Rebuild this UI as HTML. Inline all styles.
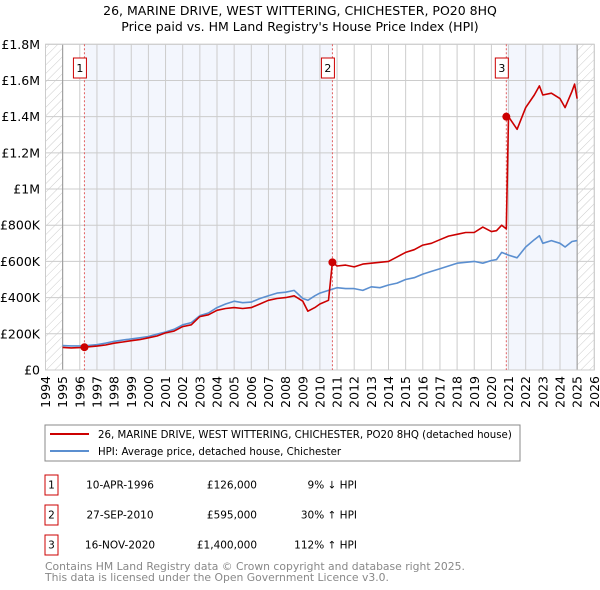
<!DOCTYPE html>
<html><head><meta charset="utf-8"><style>
body{margin:0;background:#fff;font-family:"DejaVu Sans","Liberation Sans",sans-serif;}
svg{display:block}
</style></head><body>
<svg id="chart" width="600" height="590" xmlns="http://www.w3.org/2000/svg" font-family="DejaVu Sans, Liberation Sans, sans-serif">
<defs><pattern id="hatch" width="6" height="6" patternUnits="userSpaceOnUse" patternTransform="rotate(45)"><line x1="0" y1="0" x2="0" y2="6" stroke="#ccc" stroke-width="1"/></pattern></defs>
<text x="300" y="15" text-anchor="middle" font-size="12.5">26, MARINE DRIVE, WEST WITTERING, CHICHESTER, PO20 8HQ</text>
<text x="300" y="31" text-anchor="middle" font-size="12.5">Price paid vs. HM Land Registry's House Price Index (HPI)</text>
<g id="plot"></g>
<g>
<rect x="45" y="425" width="475" height="36" fill="#fff" stroke="#888"/>
<line x1="50" y1="434" x2="89" y2="434" stroke="#cc0000" stroke-width="2"/>
<text x="98" y="438" font-size="10.2">26, MARINE DRIVE, WEST WITTERING, CHICHESTER, PO20 8HQ (detached house)</text>
<line x1="50" y1="451" x2="89" y2="451" stroke="#5b8fd0" stroke-width="2"/>
<text x="98" y="455" font-size="10.2">HPI: Average price, detached house, Chichester</text>
</g>
<g font-size="10.5">
<rect x="45" y="475" width="13" height="20" fill="none" stroke="#cc0000"/><text x="51.5" y="488.5" text-anchor="middle">1</text>
<text x="120" y="488.5" text-anchor="middle">10-APR-1996</text><text x="257" y="488.5" text-anchor="end">£126,000</text><text x="357" y="488.5" text-anchor="end">9% ↓ HPI</text>
<rect x="45" y="505" width="13" height="20" fill="none" stroke="#cc0000"/><text x="51.5" y="518.5" text-anchor="middle">2</text>
<text x="120" y="518.5" text-anchor="middle">27-SEP-2010</text><text x="257" y="518.5" text-anchor="end">£595,000</text><text x="357" y="518.5" text-anchor="end">30% ↑ HPI</text>
<rect x="45" y="535" width="13" height="20" fill="none" stroke="#cc0000"/><text x="51.5" y="548.5" text-anchor="middle">3</text>
<text x="120" y="548.5" text-anchor="middle">16-NOV-2020</text><text x="257" y="548.5" text-anchor="end">£1,400,000</text><text x="357" y="548.5" text-anchor="end">112% ↑ HPI</text>
</g>
<text x="45" y="570" font-size="10.8" fill="#888">Contains HM Land Registry data © Crown copyright and database right 2025.</text>
<text x="45" y="581" font-size="10.8" fill="#888">This data is licensed under the Open Government Licence v3.0.</text>
</svg>
<script>
const hpiYears=[1995,1995.5,1996,1996.5,1997,1997.5,1998,1998.5,1999,1999.5,2000,2000.5,2001,2001.5,2002,2002.5,2003,2003.5,2004,2004.5,2005,2005.5,2006,2006.5,2007,2007.5,2008,2008.5,2009,2009.3,2009.7,2010,2010.5,2011,2011.5,2012,2012.5,2013,2013.5,2014,2014.5,2015,2015.5,2016,2016.5,2017,2017.5,2018,2018.5,2019,2019.5,2020,2020.3,2020.6,2021,2021.5,2022,2022.5,2022.8,2023,2023.5,2024,2024.3,2024.7,2025];
const hpiValues=[135,133,133,136,140,148,158,165,172,178,185,198,210,225,250,262,300,315,345,365,380,372,375,395,410,425,430,440,395,385,410,425,440,455,450,450,440,460,455,470,480,500,510,530,545,560,575,590,595,600,590,605,610,650,635,620,680,720,742,700,715,700,680,710,715];
const priceYears=[1995,1995.5,1996,1996.27,1996.5,1997,1997.5,1998,1998.5,1999,1999.5,2000,2000.5,2001,2001.5,2002,2002.5,2003,2003.5,2004,2004.5,2005,2005.5,2006,2006.5,2007,2007.5,2008,2008.5,2009,2009.3,2009.7,2010,2010.5,2010.73,2011,2011.5,2012,2012.5,2013,2013.5,2014,2014.5,2015,2015.5,2016,2016.5,2017,2017.5,2018,2018.5,2019,2019.5,2020,2020.3,2020.6,2020.87,2021,2021.5,2022,2022.5,2022.8,2023,2023.5,2024,2024.3,2024.7,2024.85,2025];
const priceValues=[125,122,124,126,128,132,138,148,155,162,168,178,188,205,215,240,250,295,305,330,340,345,340,345,365,385,395,400,410,380,325,345,365,385,595,575,580,570,585,590,595,600,625,650,665,690,700,720,740,750,760,760,790,765,770,800,780,1400,1330,1450,1520,1570,1520,1530,1500,1450,1540,1580,1500];
const saleYears=[1996.27,2010.73,2020.87];
const saleValues=[126,595,1400];
const saleLabels=["1","2","3"];
const yTicks=[0,200,400,600,800,1000,1200,1400,1600,1800];
const yTickLabels=["£0","£200K","£400K","£600K","£800K","£1M","£1.2M","£1.4M","£1.6M","£1.8M"];
const xTicks=[];for(let y=1994;y<=2026;y++)xTicks.push(y);

const NS="http://www.w3.org/2000/svg";
const L=45.5,R=594.3,T=44.3,B=370;
const xs=v=>L+(v-1994)/(2026-1994)*(R-L);
const ys=v=>B-v/1800*(B-T);
const g=document.getElementById('plot');
function mk(tag,attrs,parent){const e=document.createElementNS(NS,tag);for(const k in attrs)e.setAttribute(k,attrs[k]);(parent||g).appendChild(e);return e;}
mk('rect',{x:L,y:T,width:R-L,height:B-T,fill:'#fff'});
let r=mk('rect',{x:xs(saleYears[0]),y:T,width:xs(saleYears[1])-xs(saleYears[0]),height:B-T,fill:'#f3f6fd'});

r=mk('rect',{x:xs(saleYears[2]),y:T,width:xs(2025)-xs(saleYears[2]),height:B-T,fill:'#f3f6fd'});

mk('rect',{x:L,y:T,width:xs(1995)-L,height:B-T,fill:'url(#hatch)'});
mk('rect',{x:xs(2025),y:T,width:R-xs(2025),height:B-T,fill:'url(#hatch)'});
xTicks.forEach(y=>{mk('line',{x1:xs(y),x2:xs(y),y1:T,y2:B,stroke:'#ccc','stroke-width':1});
 const t=mk('text',{x:0,y:0,'font-size':12.5,'text-anchor':'end',transform:`translate(${xs(y)+4.5},${B+6}) rotate(-90)`});t.textContent=y;
 });
yTicks.forEach((v,i)=>{mk('line',{x1:L,x2:R,y1:ys(v),y2:ys(v),stroke:'#ccc','stroke-width':1});
 const t=mk('text',{x:40,y:ys(v)+4.5,'font-size':12.5,'text-anchor':'end'});t.textContent=yTickLabels[i];
 });
mk('line',{x1:xs(1995),x2:xs(1995),y1:T,y2:B,stroke:'#999'});
mk('line',{x1:xs(2025),x2:xs(2025),y1:T,y2:B,stroke:'#999'});
mk('rect',{x:L,y:T,width:R-L,height:B-T,fill:'none',stroke:'#ccc'});
saleYears.forEach((s,i)=>{mk('line',{x1:xs(s),x2:xs(s),y1:T,y2:B,stroke:'#e06060','stroke-dasharray':'2,2','stroke-width':1});
 const bx=mk('rect',{x:xs(s)-11,y:58,width:13,height:20,fill:'#fff',stroke:'#cc0000'});
 
 const t=mk('text',{x:xs(s)-4.5,y:72,'font-size':11,'text-anchor':'middle'});t.textContent=saleLabels[i];});
const line=(xa,va,col,name)=>{const p=mk('path',{d:xa.map((x,i)=>(i?'L':'M')+xs(x).toFixed(1)+','+ys(va[i]).toFixed(1)).join(''),fill:'none',stroke:col,'stroke-width':1.6,'stroke-linejoin':'round'});
 };
line(hpiYears,hpiValues,'#5b8fd0','hpi-line');
line(priceYears,priceValues,'#cc0000','price-paid-line');
saleYears.forEach((s,i)=>{const c=mk('circle',{cx:xs(s),cy:ys(saleValues[i]),r:4,fill:'#cc0000'});
 });
</script>
</body></html>
